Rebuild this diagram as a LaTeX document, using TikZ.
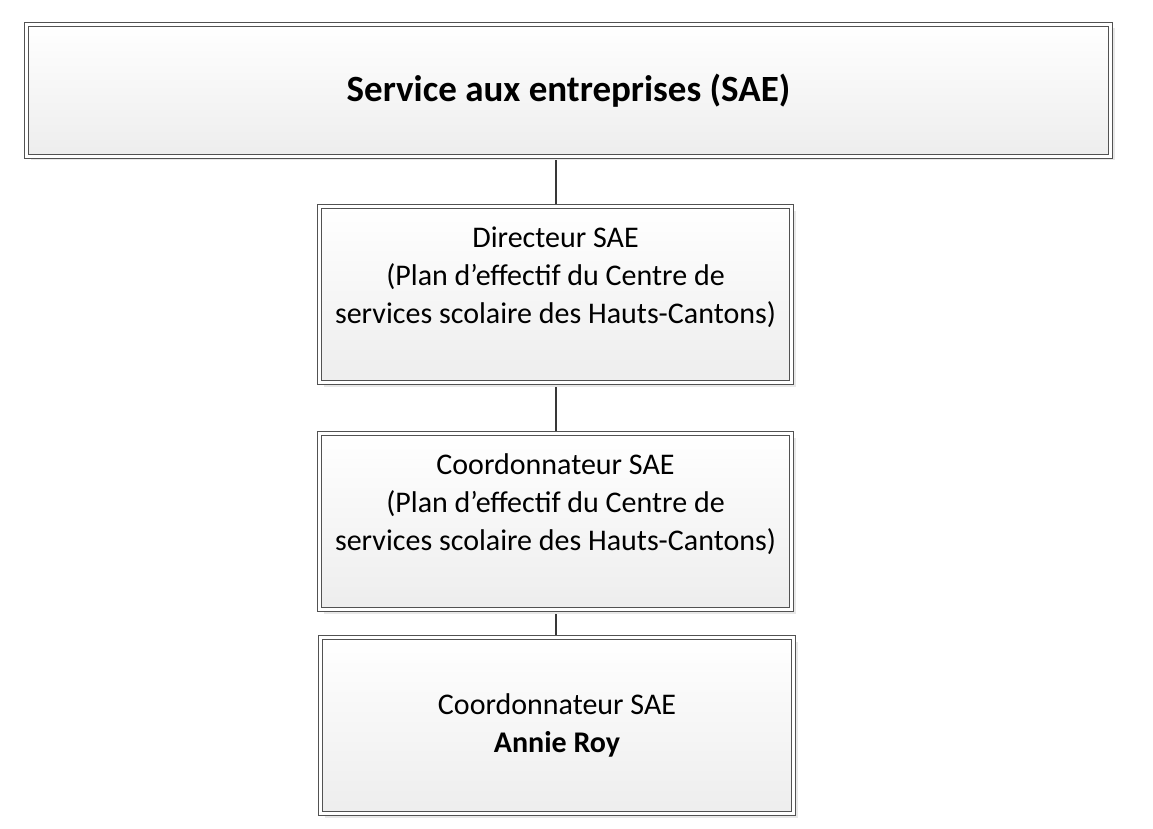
\documentclass[tikz,border=0pt]{standalone}
\usepackage{fontspec}
\setmainfont{Carlito}
\usetikzlibrary{positioning, shadows, backgrounds}

\begin{document}
\begin{tikzpicture}[
    x=1pt, y=-1pt,
    box/.style={rectangle, draw=black!68, line width=1.2pt, double=white, double distance=2.6pt,
        top color=white, bottom color=black!7, minimum width=472pt, minimum height=176pt,
        align=center, inner sep=0pt, font=\fontsize{30}{38}\selectfont,
        drop shadow={shadow xshift=4pt, shadow yshift=-4pt, fill=black!9, opacity=1}},
    link/.style={draw=black!78, line width=2pt}
]
    \useasboundingbox (0,0) rectangle (1153,829);

    % Boxes
    \node[box, minimum width=1084pt, minimum height=132pt, font=\fontsize{37}{44}\selectfont\bfseries]
        (sae) at (568.5, 90.5) {Service aux entreprises (SAE)};
    \node[box] (directeur) at (555.5, 294.5)
        {Directeur SAE\\(Plan d’effectif du Centre de\\services scolaire des Hauts-Cantons)\\\mbox{}};
    \node[box] (coord) at (555.5, 521.5)
        {Coordonnateur SAE\\(Plan d’effectif du Centre de\\services scolaire des Hauts-Cantons)\\\mbox{}};
    \node[box, minimum width=473pt] (annie) at (557, 725.5)
        {Coordonnateur SAE\\\textbf{Annie Roy}};

    % Links
    \begin{scope}[on background layer]
        \draw[link] (sae.south -| directeur.north) -- (directeur.north);
        \draw[link] (directeur.south) -- (coord.north);
        \draw[link] (coord.south) -- (coord.south |- annie.north);
    \end{scope}

\end{tikzpicture}
\end{document}
